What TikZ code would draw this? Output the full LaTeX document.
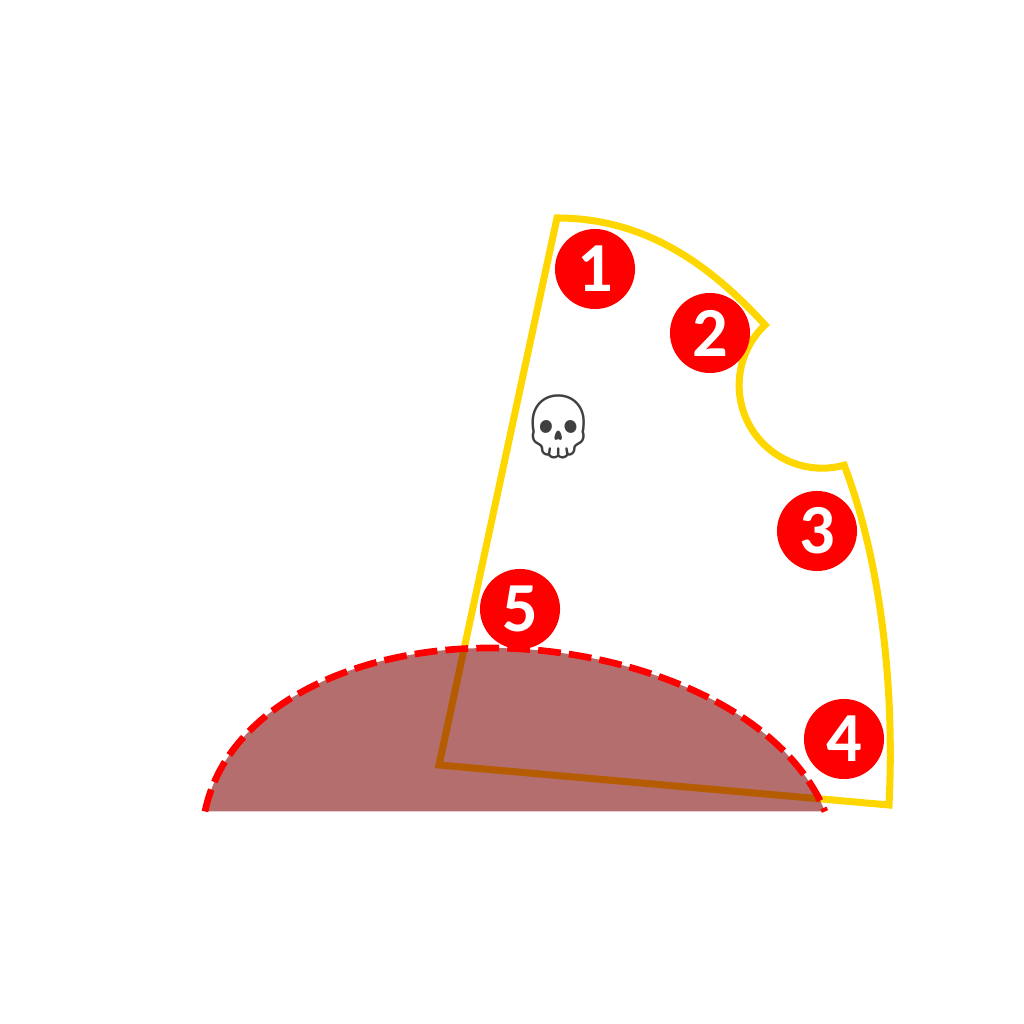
\documentclass[tikz,border=0pt]{standalone}
\usepackage{fontspec}
\usepackage{xcolor}
\newfontfamily\badgefont{Carlito}
\newfontfamily\emojifont{Noto Emoji}
\definecolor{Sector_Gold}{HTML}{FFD700}
\definecolor{Dome_Dark}{HTML}{7D0000}
\tikzset{
  badge/.style={circle, fill=red, text=white, minimum size=0.8cm, inner sep=0pt, font=\badgefont\bfseries\fontsize{20}{20}\selectfont},
}
\begin{document}
\begin{tikzpicture}[x=0.01cm, y=0.01cm]
\useasboundingbox (0,0) rectangle (1024,1024);
% --- Sector with notch ---
\draw[Sector_Gold, line width=2pt, miter limit=10] (439,259) -- (557,806)
  .. controls (640,806) and (705,765) .. (765,699)
  arc[start angle=133.5, end angle=285.4, radius=83]
  .. controls (880,465) and (895,340) .. (889,219) -- cycle;
% --- Numbered badges ---
\node[badge] (one) at (595,755) {1};
\node[badge] (two) at (710,691) {2};
\node[badge] (three) at (817,493) {3};
\node[badge] (four) at (844,285) {4};
\node[badge] (five) at (520,415) {5};
% Skull
\node[font=\emojifont\fontsize{18}{18}\selectfont, text=black!75] (skull) at (559,597) {💀};
% --- Dome ---
\fill[Dome_Dark, opacity=0.57] (205,212.5) .. controls (226,315) and (350,376) .. (490,376)
  .. controls (630,376) and (782,317) .. (825,212.5) -- cycle;
\draw[red, line width=1.9pt, dash pattern=on 6.5pt off 2.3pt] (205,212.5) .. controls (226,315) and (350,376) .. (490,376)
  .. controls (630,376) and (782,317) .. (825,212.5);
\end{tikzpicture}
\end{document}
